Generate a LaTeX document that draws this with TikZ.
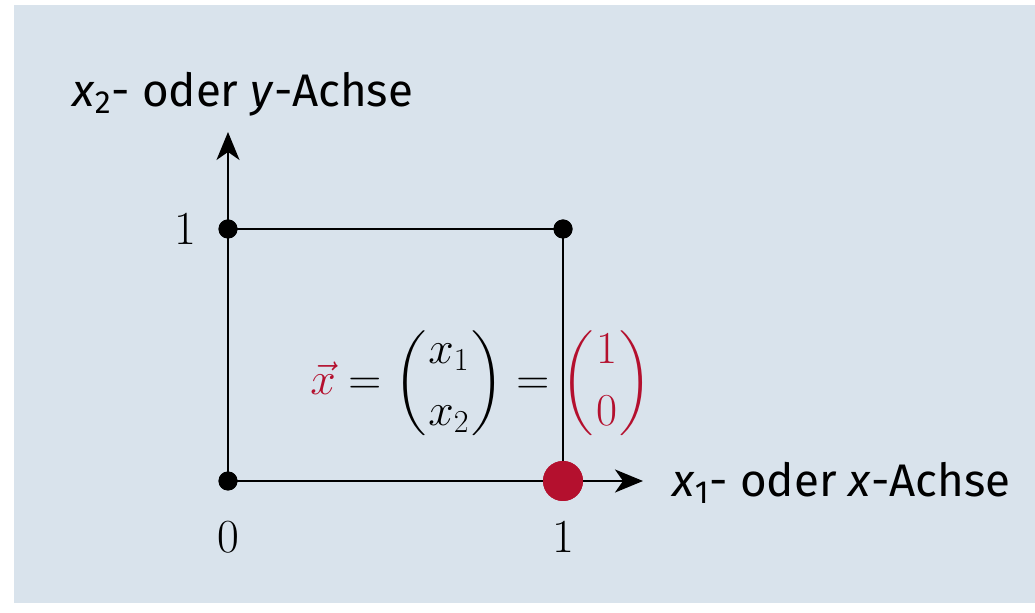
\RequirePackage{fix-cm}
\documentclass[tikz,border=0pt]{standalone}
\usepackage{amsmath}
\usepackage{fontspec}
\setsansfont{Fira Sans}
\usepackage{xcolor}
\usetikzlibrary{arrows.meta}

\definecolor{panelblue}{RGB}{217,227,236}
\definecolor{vecred}{RGB}{180,16,46}

\begin{document}
\begin{tikzpicture}[
        dot/.style={circle, fill=black, inner sep=0pt, minimum size=0.38cm},
        reddot/.style={circle, fill=vecred, inner sep=0pt, minimum size=0.8cm},
        axis/.style={line width=1.3pt, -{Stealth[length=0.56cm, width=0.46cm, inset=0.16cm]}},
        edge/.style={line width=1.3pt},
        axislabel/.style={font=\fontsize{26}{30}\sffamily, anchor=base west, inner sep=0pt},
        tick/.style={font=\fontsize{27}{30}\selectfont, inner sep=0pt}
    ]
        \useasboundingbox (0,0) rectangle (20.7,12.24);
        \fill[white] (0,0) rectangle (20.7,12.24);
        \fill[panelblue] (0.28,0.18) rectangle (20.7,12.14);

        \coordinate (ytip) at (4.56, 9.6);
        \coordinate (xtip) at (12.86, 2.62);

        \node[dot] at (4.56, 2.62) (o) {};
        \node[dot] at (4.56, 7.66) (e2) {};
        \node[dot] at (11.26, 7.66) (e12) {};
        \node[reddot] at (11.26, 2.62) (e1) {};

        \draw[axis] (o.center) -- (ytip);
        \draw[axis] (o.center) -- (xtip);
        \draw[edge] (e2.center) -- (e12.center);
        \draw[edge] (e12.center) -- (e1.center);
        \node[dot] at (o) {};
        \node[dot] at (e2) {};
        \node[dot] at (e12) {};
        \node[reddot] at (e1) {};

        \node[tick] at (3.7, 7.66) (l1y) {1};
        \node[tick] at (4.56, 1.5) (l0) {0};
        \node[tick] at (11.26, 1.5) (l1x) {1};

        \node[axislabel] at (1.44, 10.1) (ylab) {\textit{x}\textsubscript{2}- oder \textit{y}-Achse};
        \node[axislabel] at (13.44, 2.3) (xlab) {\textit{x}\textsubscript{1}- oder \textit{x}-Achse};

        \node[font=\fontsize{26}{30}\selectfont, anchor=west, inner sep=0pt] at (6.2, 4.58) (vec)
            {$\displaystyle \textcolor{vecred}{\vec{x}} = \biggl(\genfrac{}{}{0pt}{0}{x_1}{x_2}\biggr) = \textcolor{vecred}{\biggl(\genfrac{}{}{0pt}{0}{1}{0}\biggr)}$};
    \end{tikzpicture}
\end{document}
